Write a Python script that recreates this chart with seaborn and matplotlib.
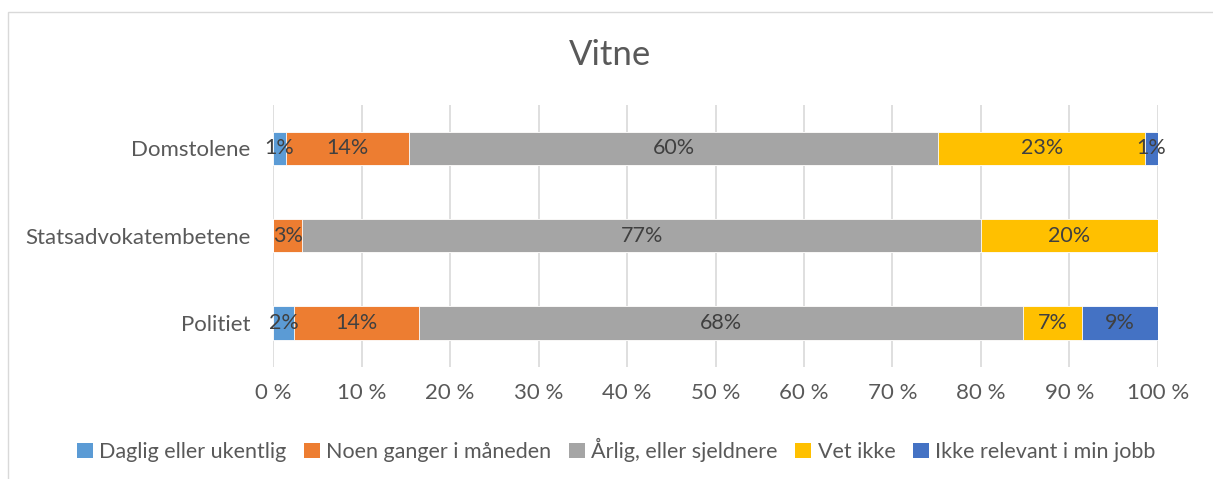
import numpy as np
import pandas as pd
import matplotlib
matplotlib.use("Agg")
import matplotlib.pyplot as plt
import seaborn as sns
from matplotlib.patches import Rectangle, Patch

categories = ["Domstolene", "Statsadvokatembetene", "Politiet"]
series = ["Daglig eller ukentlig", "Noen ganger i måneden", "Årlig, eller sjeldnere",
          "Vet ikke", "Ikke relevant i min jobb"]
daglig = [1.4, 0.0, 2.3]
noen = [13.9, 3.3, 14.2]
arlig = [59.9, 76.7, 68.3]
vet_ikke = [23.4, 20.0, 6.6]
ikke_relevant = [1.4, 0.0, 8.6]
xticks = [0, 10, 20, 30, 40, 50, 60, 70, 80, 90, 100]

colors = ["#5B9BD5", "#ED7D31", "#A5A5A5", "#FFC000", "#4472C4"]
text_col = "#595959"

sns.set_theme(style="white")
plt.rcParams["font.family"] = ["Lato", "DejaVu Sans"]

values = [daglig, noen, arlig, vet_ikke, ikke_relevant]
cum = np.cumsum(np.array(values), axis=0)

fig = plt.figure(figsize=(12.13, 4.79), dpi=100)
ax = fig.add_axes([273.3 / 1213, 1 - 366.75 / 479, (1157.7 - 273.3) / 1213, (366.75 - 104.5) / 479])

# draw cumulative totals from last to first so earlier series overlap
for i in range(len(series) - 1, -1, -1):
    df = pd.DataFrame({"cat": categories, "val": cum[i]})
    sns.barplot(data=df, x="val", y="cat", order=categories, color=colors[i],
                orient="h", width=0.38, ax=ax, saturation=1, edgecolor="white",
                linewidth=0.6, zorder=3)

# labels
for i, vals in enumerate(values):
    for j, v in enumerate(vals):
        if v <= 0:
            continue
        left = cum[i][j] - v
        ax.text(left + v / 2, j, f"{int(np.floor(v + 0.5))}%", ha="center", va="center",
                fontsize=15.5, color="#404040", zorder=5)

ax.set_xlim(0, 100)
ax.set_ylim(2.5, -0.5)
ax.set_xticks(xticks)
ax.set_xticklabels([f"{t} %" for t in xticks], fontsize=16, color=text_col)
ax.tick_params(axis="x", pad=12, length=0)
ax.tick_params(axis="y", pad=16.5, length=0, labelsize=16, labelcolor=text_col)
ax.set_xlabel("")
ax.set_ylabel("")
ax.grid(axis="x", color="#D9D9D9", linewidth=1.2, zorder=0)
ax.grid(axis="y", visible=False)
for s in ax.spines.values():
    s.set_visible(False)

fig.text(0.503, 1 - 55 / 479, "Vitne", ha="center", va="center", fontsize=25, color=text_col)

handles = [Patch(facecolor=c, edgecolor="none") for c in colors]
fig.legend(handles, series, loc="center", bbox_to_anchor=(0.508, 1 - 450 / 479), ncol=5,
           frameon=False, fontsize=15.5, handlelength=0.75, handleheight=0.75,
           handletextpad=0.3, columnspacing=0.8, labelcolor=text_col)

fig.patches.append(Rectangle((8 / 1213, -0.01), 1.0, 1 - 12 / 479 + 0.01, transform=fig.transFigure,
                             fill=False, edgecolor="#D9D9D9", linewidth=1))

fig.savefig("out.png", dpi=100)
